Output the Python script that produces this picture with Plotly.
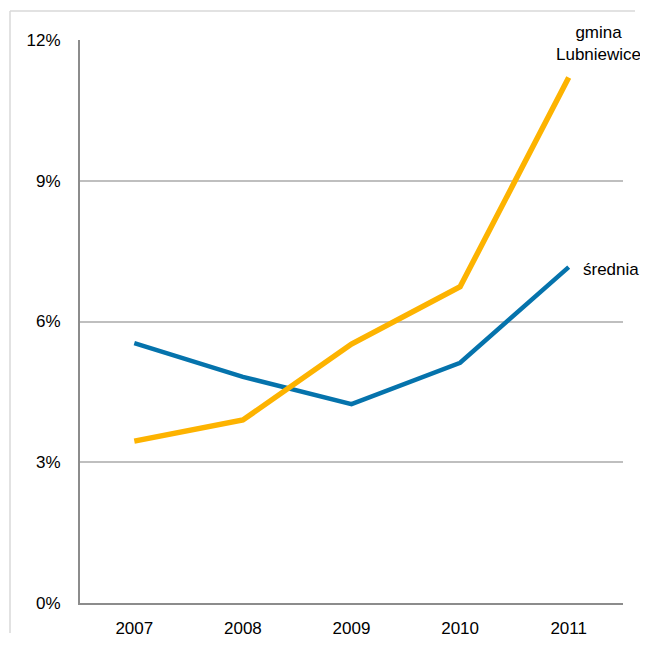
import plotly.graph_objects as go

years = ["2007", "2008", "2009", "2010", "2011"]
gmina = [3.45, 3.9, 5.52, 6.74, 11.2]
srednia = [5.54, 4.82, 4.24, 5.12, 7.16]
y_ticks = [0, 3, 6, 9, 12]
y_tick_labels = ["0%", "3%", "6%", "9%", "12%"]

# the page adds an 8px body margin on every side, so the figure is 16px smaller
W, H = 632, 630
L, R, T, B = 72, 17, 32, 35
pw, ph = W - L - R, H - T - B

fig = go.Figure()
fig.add_trace(go.Scatter(x=years, y=srednia, mode="lines", name="średnia",
                         line=dict(color="#0573AC", width=4.5)))
fig.add_trace(go.Scatter(x=years, y=gmina, mode="lines", name="gmina Lubniewice",
                         line=dict(color="#FDB300", width=5.5)))

font = dict(family="Liberation Sans, Arial, sans-serif", size=17, color="#000000")

last = len(years) - 1
fig.add_annotation(x=last, y=gmina[-1], xref="x", yref="y", text="gmina<br>Lubniewice",
                   showarrow=False, xanchor="center", yanchor="bottom", xshift=30, yshift=12,
                   font=font, align="center")
fig.add_annotation(x=last, y=srednia[-1], xref="x", yref="y", text="średnia",
                   showarrow=False, xanchor="left", yanchor="middle", xshift=12, yshift=-2,
                   font=font)

# outer light border: top and left edges, kept a little inside the figure bounds
top_y = (H - B - 3) / ph
left_x = (2 - L) / pw
right_x = (W - 5 - L) / pw
bottom_y = -(B - 5) / ph
fig.add_shape(type="line", xref="paper", yref="paper",
              x0=left_x, x1=right_x, y0=top_y, y1=top_y,
              line=dict(color="#D9D9D9", width=1.5), layer="below")
fig.add_shape(type="line", xref="paper", yref="paper",
              x0=left_x, x1=left_x, y0=top_y, y1=bottom_y,
              line=dict(color="#D9D9D9", width=1.5), layer="below")

fig.update_layout(
    width=W, height=H,
    margin=dict(l=L, r=R, t=T, b=B, autoexpand=False),
    paper_bgcolor="white", plot_bgcolor="white",
    showlegend=False,
    font=font,
    xaxis=dict(type="category", range=[-0.5, 4.5], showgrid=False, automargin=False,
               showline=True, linecolor="#8C8C8C", linewidth=2,
               ticks="", tickfont=font, ticklabelstandoff=9, fixedrange=True),
    yaxis=dict(range=[0, 12], tickvals=y_ticks, ticktext=y_tick_labels, automargin=False,
               showgrid=True, gridcolor="#BFBFBF", gridwidth=1.5,
               showline=True, linecolor="#8C8C8C", linewidth=2,
               zeroline=False, ticks="", tickfont=font, ticklabelstandoff=14),
)

fig.write_html("out.html")
